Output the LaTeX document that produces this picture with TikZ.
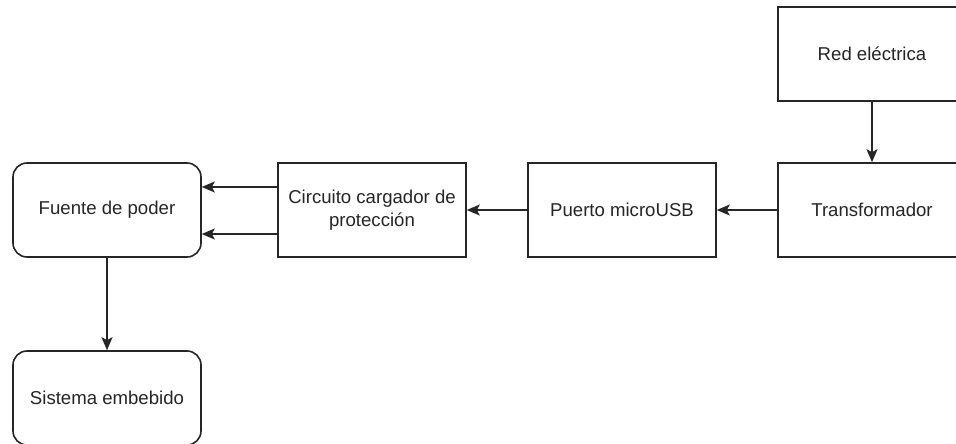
\documentclass[tikz,border=0pt]{standalone}
\usepackage{fontspec}
\setmainfont{Liberation Sans}
\usetikzlibrary{arrows.meta}
\begin{document}
\begin{tikzpicture}[x=1pt,y=-1pt,
  block/.style={draw=black!85, line width=1.6pt, fill=white, minimum width=188pt,
    minimum height=94pt, inner sep=0pt, align=center, font=\fontsize{18.6}{23}\selectfont, text=black!85},
  softblock/.style={block, rounded corners=14pt},
  flow/.style={draw=black!85, line width=1.6pt, -{Stealth[length=13pt,width=11pt,inset=3pt]}}]
\useasboundingbox (0,0) rectangle (956,444);
\node[block] (red) at (872,54) {Red eléctrica};
\node[block] (trans) at (872,210) {Transformador};
\node[block] (usb) at (622,210) {Puerto microUSB};
\node[block] (carg) at (372,210) {Circuito cargador de\\protección};
\node[softblock] (fuente) at (107,210) {Fuente de poder};
\node[softblock] (sis) at (107,398) {Sistema embebido};
\draw[flow] (red) -- (trans);
\draw[flow] (trans) -- (usb);
\draw[flow] (usb) -- (carg);
\draw[flow] (carg.west |- 0,187) -- (fuente.east |- 0,187);
\draw[flow] (carg.west |- 0,234) -- (fuente.east |- 0,234);
\draw[flow] (fuente) -- (sis);
\end{tikzpicture}
\end{document}
